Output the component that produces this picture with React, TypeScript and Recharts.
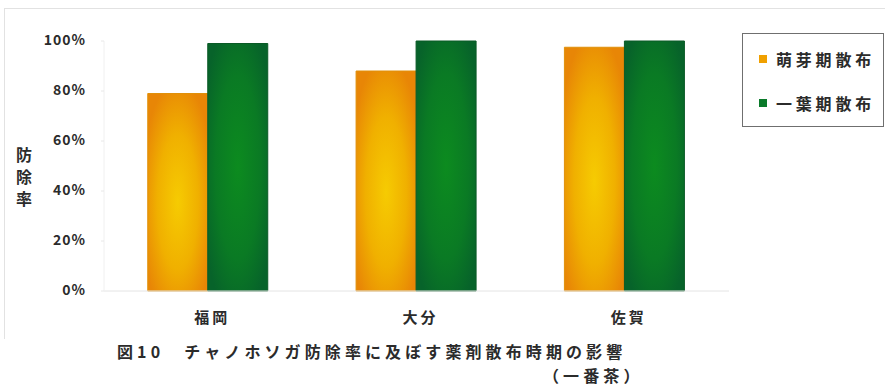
import { BarChart, Bar, XAxis, YAxis } from "recharts";

const regions = ["福岡", "大分", "佐賀"];
const budSpray = [79, 88, 97.5];
const firstLeafSpray = [99, 100, 100];
const seriesNames = ["萌芽期散布", "一葉期散布"];
const yTicks = [0, 20, 40, 60, 80, 100];

const data = regions.map((region, i) => ({
  region,
  bud: budSpray[i],
  leaf: firstLeafSpray[i],
}));

const FONT = '"Noto Sans CJK JP", "Noto Sans", sans-serif';
const TEXT = "#2b2b2b";
const SWATCH = ["#f0a000", "#0a7a2a"];

function YTick({ y, payload }: any) {
  return (
    <text
      x={86}
      y={y + 4}
      textAnchor="end"
      fontFamily={FONT}
      fontSize={14}
      fontWeight={700}
      letterSpacing={1}
      fill={TEXT}
    >
      {payload.value}%
    </text>
  );
}

function XTick({ x, y, payload }: any) {
  return (
    <text
      x={x + 4}
      y={y + 24}
      textAnchor="middle"
      fontFamily={FONT}
      fontSize={15}
      fontWeight={700}
      letterSpacing={3}
      fill={TEXT}
    >
      {payload.value}
    </text>
  );
}

function LegendBox() {
  return (
    <div
      style={{
        position: "absolute",
        left: 742,
        top: 33,
        border: "1.5px solid #6f6f6f",
        boxSizing: "border-box",
        width: 142,
        height: 94,
        padding: "14px 0 0 16px",
        fontFamily: FONT,
        fontSize: 16,
        fontWeight: 700,
        letterSpacing: 3.8,
        color: TEXT,
        background: "#fff",
      }}
    >
      {seriesNames.map((name, i) => (
        <div
          key={name}
          style={{ display: "flex", alignItems: "center", height: 22, marginBottom: i === 0 ? 22 : 0 }}
        >
          <span
            style={{
              display: "inline-block",
              width: 8,
              height: 8,
              background: SWATCH[i],
              marginRight: 9,
            }}
          />
          {name}
        </div>
      ))}
    </div>
  );
}

export default function App() {
  return (
    <div
      style={{
        position: "absolute",
        left: 0,
        top: 0,
        width: 885,
        height: 387,
        background: "#fff",
        overflow: "hidden",
        fontFamily: FONT,
      }}
    >
      <div
        style={{
          position: "absolute",
          left: 4,
          top: 8,
          width: 900,
          height: 330,
          borderTop: "1px solid #e2e2e2",
          borderLeft: "1px solid #e2e2e2",
        }}
      />
      <BarChart
        width={885}
        height={387}
        data={data}
        margin={{ top: 41, right: 156, bottom: 66, left: 0 }}
        barCategoryGap="21%"
        barGap={0}
        style={{ position: "absolute", left: 0, top: 0 }}
      >
        <defs>
          <radialGradient id="gradBud" cx="0.5" cy="0.55" r="0.62">
            <stop offset="0%" stopColor="#f6cb02" />
            <stop offset="55%" stopColor="#f0b000" />
            <stop offset="100%" stopColor="#e88606" />
          </radialGradient>
          <radialGradient id="gradLeaf" cx="0.5" cy="0.5" r="0.62">
            <stop offset="0%" stopColor="#0c8b1f" />
            <stop offset="60%" stopColor="#0a7a24" />
            <stop offset="100%" stopColor="#07632a" />
          </radialGradient>
        </defs>
        <XAxis
          dataKey="region"
          height={30}
          axisLine={{ stroke: "#e4e4e4" }}
          tickLine={false}
          tick={<XTick />}
        />
        <YAxis
          width={104}
          domain={[0, 100]}
          ticks={yTicks}
          interval={0}
          axisLine={{ stroke: "#f0f0f0" }}
          tickLine={{ stroke: "#e8e8e8" }}
          tickSize={3}
          tick={<YTick />}
        />
        <Bar
          dataKey="bud"
          name={seriesNames[0]}
          fill="url(#gradBud)"
          stroke="#e0900a"
          strokeWidth={1}
          isAnimationActive={false}
        />
        <Bar
          dataKey="leaf"
          name={seriesNames[1]}
          fill="url(#gradLeaf)"
          stroke="#0a5a26"
          strokeWidth={1}
          isAnimationActive={false}
        />
      </BarChart>
      <LegendBox />
      <div
        style={{
          position: "absolute",
          left: 14,
          top: 143,
          width: 20,
          fontSize: 16,
          fontWeight: 700,
          lineHeight: "22px",
          color: TEXT,
          textAlign: "center",
        }}
      >
        防<br />除<br />率
      </div>
      <div
        style={{
          position: "absolute",
          left: 117,
          top: 341,
          fontSize: 16,
          fontWeight: 700,
          letterSpacing: 4.1,
          color: TEXT,
          whiteSpace: "nowrap",
          lineHeight: "20px",
        }}
      >
        図10　チャノホソガ防除率に及ぼす薬剤散布時期の影響
      </div>
      <div
        style={{
          position: "absolute",
          left: 543,
          top: 365,
          fontSize: 16,
          fontWeight: 700,
          letterSpacing: 4.1,
          color: TEXT,
          whiteSpace: "nowrap",
          lineHeight: "20px",
        }}
      >
        （一番茶）
      </div>
    </div>
  );
}
